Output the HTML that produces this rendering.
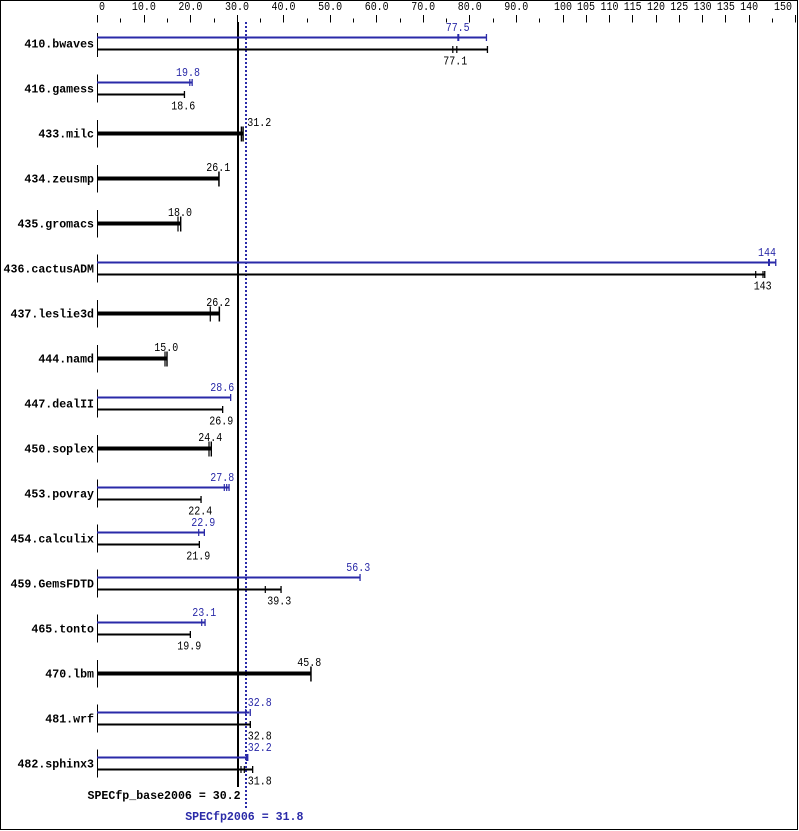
<!DOCTYPE html>
<html><head><meta charset="utf-8"><style>
html,body{margin:0;padding:0;background:#fff;}
svg{display:block;}
text{font-family:"Liberation Mono","DejaVu Sans Mono",monospace;}
.t{font-size:11.5px;fill:#000;text-anchor:middle;}
.tb{font-size:11.5px;fill:#2a2aa8;text-anchor:middle;}
.n{font-size:11.6px;font-weight:bold;fill:#000;text-anchor:end;}
</style></head><body>
<svg width="799" height="831" viewBox="0 0 799 831" xmlns="http://www.w3.org/2000/svg">
<rect x="0" y="0" width="799" height="831" fill="#fff"/>
<rect x="0.5" y="0.5" width="797" height="829" fill="none" stroke="#000" stroke-width="1"/>

<!-- top axis ticks -->
<g stroke="#000" stroke-width="1">
<line x1="97.5" y1="15" x2="97.5" y2="22.5"/>
<line x1="120.5" y1="18.5" x2="120.5" y2="22.5"/>
<line x1="144.5" y1="15" x2="144.5" y2="22.5"/>
<line x1="167.5" y1="18.5" x2="167.5" y2="22.5"/>
<line x1="190.5" y1="15" x2="190.5" y2="22.5"/>
<line x1="214.5" y1="18.5" x2="214.5" y2="22.5"/>
<line x1="237.5" y1="15" x2="237.5" y2="22.5"/>
<line x1="260.5" y1="18.5" x2="260.5" y2="22.5"/>
<line x1="283.5" y1="15" x2="283.5" y2="22.5"/>
<line x1="307.5" y1="18.5" x2="307.5" y2="22.5"/>
<line x1="330.5" y1="15" x2="330.5" y2="22.5"/>
<line x1="353.5" y1="18.5" x2="353.5" y2="22.5"/>
<line x1="376.5" y1="15" x2="376.5" y2="22.5"/>
<line x1="400.5" y1="18.5" x2="400.5" y2="22.5"/>
<line x1="423.5" y1="15" x2="423.5" y2="22.5"/>
<line x1="446.5" y1="18.5" x2="446.5" y2="22.5"/>
<line x1="469.5" y1="15" x2="469.5" y2="22.5"/>
<line x1="493.5" y1="18.5" x2="493.5" y2="22.5"/>
<line x1="516.5" y1="15" x2="516.5" y2="22.5"/>
<line x1="539.5" y1="18.5" x2="539.5" y2="22.5"/>
<line x1="563.5" y1="15" x2="563.5" y2="22.5"/>
<line x1="586.5" y1="15" x2="586.5" y2="22.5"/>
<line x1="609.5" y1="15" x2="609.5" y2="22.5"/>
<line x1="632.5" y1="15" x2="632.5" y2="22.5"/>
<line x1="656.5" y1="15" x2="656.5" y2="22.5"/>
<line x1="679.5" y1="15" x2="679.5" y2="22.5"/>
<line x1="702.5" y1="15" x2="702.5" y2="22.5"/>
<line x1="725.5" y1="15" x2="725.5" y2="22.5"/>
<line x1="749.5" y1="15" x2="749.5" y2="22.5"/>
<line x1="772.5" y1="18.5" x2="772.5" y2="22.5"/>
<line x1="795.5" y1="15" x2="795.5" y2="22.5"/>
</g>
<text x="102" y="10" class="t" textLength="6" lengthAdjust="spacingAndGlyphs">0</text>
<text x="143.9" y="10" class="t" textLength="24" lengthAdjust="spacingAndGlyphs">10.0</text>
<text x="190.4" y="10" class="t" textLength="24" lengthAdjust="spacingAndGlyphs">20.0</text>
<text x="237" y="10" class="t" textLength="24" lengthAdjust="spacingAndGlyphs">30.0</text>
<text x="283.5" y="10" class="t" textLength="24" lengthAdjust="spacingAndGlyphs">40.0</text>
<text x="330.1" y="10" class="t" textLength="24" lengthAdjust="spacingAndGlyphs">50.0</text>
<text x="376.7" y="10" class="t" textLength="24" lengthAdjust="spacingAndGlyphs">60.0</text>
<text x="423.2" y="10" class="t" textLength="24" lengthAdjust="spacingAndGlyphs">70.0</text>
<text x="469.8" y="10" class="t" textLength="24" lengthAdjust="spacingAndGlyphs">80.0</text>
<text x="516.3" y="10" class="t" textLength="24" lengthAdjust="spacingAndGlyphs">90.0</text>
<text x="563" y="10" class="t" textLength="18" lengthAdjust="spacingAndGlyphs">100</text>
<text x="586" y="10" class="t" textLength="18" lengthAdjust="spacingAndGlyphs">105</text>
<text x="609.5" y="10" class="t" textLength="18" lengthAdjust="spacingAndGlyphs">110</text>
<text x="632.7" y="10" class="t" textLength="18" lengthAdjust="spacingAndGlyphs">115</text>
<text x="656" y="10" class="t" textLength="18" lengthAdjust="spacingAndGlyphs">120</text>
<text x="679.3" y="10" class="t" textLength="18" lengthAdjust="spacingAndGlyphs">125</text>
<text x="702.6" y="10" class="t" textLength="18" lengthAdjust="spacingAndGlyphs">130</text>
<text x="725.9" y="10" class="t" textLength="18" lengthAdjust="spacingAndGlyphs">135</text>
<text x="749.1" y="10" class="t" textLength="18" lengthAdjust="spacingAndGlyphs">140</text>
<text x="783" y="10" class="t" textLength="18" lengthAdjust="spacingAndGlyphs">150</text>

<!-- reference lines -->
<rect x="237" y="22" width="2" height="765" fill="#000"/>
<line x1="246" y1="22" x2="246" y2="809" stroke="#2a2aa8" stroke-width="2" stroke-dasharray="2 2"/>

<!-- axis segments -->
<g stroke="#000" stroke-width="1">
<line x1="97.5" y1="33" x2="97.5" y2="57"/>
<line x1="97.5" y1="74.5" x2="97.5" y2="102.5"/>
<line x1="97.5" y1="120" x2="97.5" y2="147.5"/>
<line x1="97.5" y1="165" x2="97.5" y2="192.5"/>
<line x1="97.5" y1="210" x2="97.5" y2="237.5"/>
<line x1="97.5" y1="254.5" x2="97.5" y2="282.5"/>
<line x1="97.5" y1="300" x2="97.5" y2="327.5"/>
<line x1="97.5" y1="345" x2="97.5" y2="372.5"/>
<line x1="97.5" y1="389.5" x2="97.5" y2="417.5"/>
<line x1="97.5" y1="435" x2="97.5" y2="462.5"/>
<line x1="97.5" y1="479.5" x2="97.5" y2="507.5"/>
<line x1="97.5" y1="524.5" x2="97.5" y2="552.5"/>
<line x1="97.5" y1="569.5" x2="97.5" y2="597.5"/>
<line x1="97.5" y1="614.5" x2="97.5" y2="642.5"/>
<line x1="97.5" y1="660" x2="97.5" y2="687.5"/>
<line x1="97.5" y1="704.5" x2="97.5" y2="732.5"/>
<line x1="97.5" y1="749.5" x2="97.5" y2="777.5"/>
</g>

<!-- names -->
<text x="94" y="47.5" class="n">410.bwaves</text>
<text x="94" y="92.5" class="n">416.gamess</text>
<text x="94" y="137.5" class="n">433.milc</text>
<text x="94" y="182.5" class="n">434.zeusmp</text>
<text x="94" y="227.5" class="n">435.gromacs</text>
<text x="94" y="272.5" class="n">436.cactusADM</text>
<text x="94" y="317.5" class="n">437.leslie3d</text>
<text x="94" y="362.5" class="n">444.namd</text>
<text x="94" y="407.5" class="n">447.dealII</text>
<text x="94" y="452.5" class="n">450.soplex</text>
<text x="94" y="497.5" class="n">453.povray</text>
<text x="94" y="542.5" class="n">454.calculix</text>
<text x="94" y="587.5" class="n">459.GemsFDTD</text>
<text x="94" y="632.5" class="n">465.tonto</text>
<text x="94" y="677.5" class="n">470.lbm</text>
<text x="94" y="722.5" class="n">481.wrf</text>
<text x="94" y="767.5" class="n">482.sphinx3</text>

<!-- 410.bwaves c=43.5 -->
<rect x="97" y="36.5" width="389.3" height="2" fill="#2a2aa8"/>
<rect x="457.3" y="34" width="2" height="7" fill="#2a2aa8"/>
<rect x="485.8" y="34" width="1.3" height="7" fill="#2a2aa8"/>
<rect x="97" y="48.5" width="390.3" height="2" fill="#000"/>
<rect x="452.2" y="46" width="1.2" height="7" fill="#000"/>
<rect x="456.2" y="46" width="1.2" height="7" fill="#000"/>
<rect x="486.8" y="46" width="1.3" height="7" fill="#000"/>
<text x="457.7" y="31" class="tb" textLength="24" lengthAdjust="spacingAndGlyphs">77.5</text>
<text x="455.3" y="64.5" class="t" textLength="24" lengthAdjust="spacingAndGlyphs">77.1</text>

<!-- 416.gamess c=88.5 -->
<rect x="97" y="81.5" width="95" height="2" fill="#2a2aa8"/>
<rect x="189.2" y="79" width="1.2" height="7" fill="#2a2aa8"/>
<rect x="191.5" y="79" width="1.3" height="7" fill="#2a2aa8"/>
<rect x="97" y="93.5" width="87.3" height="2" fill="#000"/>
<rect x="183.8" y="91" width="1.3" height="7" fill="#000"/>
<text x="188" y="76" class="tb" textLength="24" lengthAdjust="spacingAndGlyphs">19.8</text>
<text x="183.3" y="109.5" class="t" textLength="24" lengthAdjust="spacingAndGlyphs">18.6</text>

<!-- 433.milc c=133.5 -->
<rect x="97" y="131.5" width="146" height="4" fill="#000"/>
<rect x="240.7" y="126.5" width="1.3" height="15" fill="#000"/>
<rect x="242.3" y="126.5" width="1.5" height="15" fill="#000"/>
<text x="259.3" y="126" class="t" textLength="24" lengthAdjust="spacingAndGlyphs">31.2</text>

<!-- 434.zeusmp c=178.5 -->
<rect x="97" y="176.5" width="122" height="4" fill="#000"/>
<rect x="218.2" y="171.5" width="1.5" height="15" fill="#000"/>
<text x="218.3" y="171" class="t" textLength="24" lengthAdjust="spacingAndGlyphs">26.1</text>

<!-- 435.gromacs c=223.5 -->
<rect x="97" y="221.5" width="83.7" height="4" fill="#000"/>
<rect x="177.4" y="216.5" width="1.2" height="15" fill="#000"/>
<rect x="180" y="216.5" width="1.4" height="15" fill="#000"/>
<text x="180" y="216" class="t" textLength="24" lengthAdjust="spacingAndGlyphs">18.0</text>

<!-- 436.cactusADM c=268.5 -->
<rect x="97" y="261.5" width="678.7" height="2" fill="#2a2aa8"/>
<rect x="768" y="259" width="2" height="7" fill="#2a2aa8"/>
<rect x="775.1" y="259" width="1.3" height="7" fill="#2a2aa8"/>
<rect x="97" y="273.5" width="667.7" height="2" fill="#000"/>
<rect x="755.1" y="271" width="1.2" height="7" fill="#000"/>
<rect x="762.4" y="271" width="1.2" height="7" fill="#000"/>
<rect x="764.1" y="271" width="1.3" height="7" fill="#000"/>
<text x="767" y="256" class="tb" textLength="18" lengthAdjust="spacingAndGlyphs">144</text>
<text x="762.7" y="289.5" class="t" textLength="18" lengthAdjust="spacingAndGlyphs">143</text>

<!-- 437.leslie3d c=313.5 -->
<rect x="97" y="311.5" width="122.3" height="4" fill="#000"/>
<rect x="209.7" y="306.5" width="1.2" height="15" fill="#000"/>
<rect x="218.6" y="306.5" width="1.5" height="15" fill="#000"/>
<text x="218.3" y="306" class="t" textLength="24" lengthAdjust="spacingAndGlyphs">26.2</text>

<!-- 444.namd c=358.5 -->
<rect x="97" y="356.5" width="70" height="4" fill="#000"/>
<rect x="164.4" y="351.5" width="1.2" height="15" fill="#000"/>
<rect x="166.3" y="351.5" width="1.4" height="15" fill="#000"/>
<text x="166.3" y="351" class="t" textLength="24" lengthAdjust="spacingAndGlyphs">15.0</text>

<!-- 447.dealII c=403.5 -->
<rect x="97" y="396.5" width="133.7" height="2" fill="#2a2aa8"/>
<rect x="230" y="394" width="1.3" height="7" fill="#2a2aa8"/>
<rect x="97" y="408.5" width="125.7" height="2" fill="#000"/>
<rect x="222" y="406" width="1.3" height="7" fill="#000"/>
<text x="222.3" y="391" class="tb" textLength="24" lengthAdjust="spacingAndGlyphs">28.6</text>
<text x="221.3" y="424.5" class="t" textLength="24" lengthAdjust="spacingAndGlyphs">26.9</text>

<!-- 450.soplex c=448.5 -->
<rect x="97" y="446.5" width="114.3" height="4" fill="#000"/>
<rect x="208.4" y="441.5" width="1.2" height="15" fill="#000"/>
<rect x="210.6" y="441.5" width="1.4" height="15" fill="#000"/>
<text x="210.3" y="441" class="t" textLength="24" lengthAdjust="spacingAndGlyphs">24.4</text>

<!-- 453.povray c=493.5 -->
<rect x="97" y="486.5" width="132" height="2" fill="#2a2aa8"/>
<rect x="223.7" y="484" width="1.2" height="7" fill="#2a2aa8"/>
<rect x="226.1" y="484" width="1.2" height="7" fill="#2a2aa8"/>
<rect x="228.4" y="484" width="1.3" height="7" fill="#2a2aa8"/>
<rect x="97" y="498.5" width="104" height="2" fill="#000"/>
<rect x="200.4" y="496" width="1.3" height="7" fill="#000"/>
<text x="222.3" y="481" class="tb" textLength="24" lengthAdjust="spacingAndGlyphs">27.8</text>
<text x="200.3" y="514.5" class="t" textLength="24" lengthAdjust="spacingAndGlyphs">22.4</text>

<!-- 454.calculix c=538.5 -->
<rect x="97" y="531.5" width="107.3" height="2" fill="#2a2aa8"/>
<rect x="198.1" y="529" width="1.2" height="7" fill="#2a2aa8"/>
<rect x="203.7" y="529" width="1.3" height="7" fill="#2a2aa8"/>
<rect x="97" y="543.5" width="102.3" height="2" fill="#000"/>
<rect x="198.7" y="541" width="1.3" height="7" fill="#000"/>
<text x="203.3" y="526" class="tb" textLength="24" lengthAdjust="spacingAndGlyphs">22.9</text>
<text x="198.3" y="559.5" class="t" textLength="24" lengthAdjust="spacingAndGlyphs">21.9</text>

<!-- 459.GemsFDTD c=583.5 -->
<rect x="97" y="576.5" width="263" height="2" fill="#2a2aa8"/>
<rect x="359.4" y="574" width="1.3" height="7" fill="#2a2aa8"/>
<rect x="97" y="588.5" width="184" height="2" fill="#000"/>
<rect x="264.7" y="586" width="1.2" height="7" fill="#000"/>
<rect x="280.4" y="586" width="1.3" height="7" fill="#000"/>
<text x="358.3" y="571" class="tb" textLength="24" lengthAdjust="spacingAndGlyphs">56.3</text>
<text x="279.3" y="604.5" class="t" textLength="24" lengthAdjust="spacingAndGlyphs">39.3</text>

<!-- 465.tonto c=628.5 -->
<rect x="97" y="621.5" width="108" height="2" fill="#2a2aa8"/>
<rect x="201.1" y="619" width="1.2" height="7" fill="#2a2aa8"/>
<rect x="204.4" y="619" width="1.3" height="7" fill="#2a2aa8"/>
<rect x="97" y="633.5" width="93.3" height="2" fill="#000"/>
<rect x="189.7" y="631" width="1.3" height="7" fill="#000"/>
<text x="204.3" y="616" class="tb" textLength="24" lengthAdjust="spacingAndGlyphs">23.1</text>
<text x="189.3" y="649.5" class="t" textLength="24" lengthAdjust="spacingAndGlyphs">19.9</text>

<!-- 470.lbm c=673.5 -->
<rect x="97" y="671.5" width="214" height="4" fill="#000"/>
<rect x="310.2" y="666.5" width="1.5" height="15" fill="#000"/>
<text x="309.3" y="666" class="t" textLength="24" lengthAdjust="spacingAndGlyphs">45.8</text>

<!-- 481.wrf c=718.5 -->
<rect x="97" y="711.5" width="152.3" height="2" fill="#2a2aa8"/>
<rect x="245.1" y="709" width="1.2" height="7" fill="#2a2aa8"/>
<rect x="249.6" y="709" width="1.3" height="7" fill="#2a2aa8"/>
<rect x="97" y="723.5" width="153.3" height="2" fill="#000"/>
<rect x="249.6" y="721" width="1.4" height="7" fill="#000"/>
<text x="259.8" y="706" class="tb" textLength="24" lengthAdjust="spacingAndGlyphs">32.8</text>
<text x="259.8" y="739.5" class="t" textLength="24" lengthAdjust="spacingAndGlyphs">32.8</text>

<!-- 482.sphinx3 c=763.5 -->
<rect x="97" y="756.5" width="151" height="2" fill="#2a2aa8"/>
<rect x="245.8" y="754" width="2.6" height="7" fill="#2a2aa8"/>
<rect x="97" y="768.5" width="155.7" height="2" fill="#000"/>
<rect x="240.4" y="766" width="1.2" height="7" fill="#000"/>
<rect x="243.7" y="766" width="1.2" height="7" fill="#000"/>
<rect x="252" y="766" width="1.3" height="7" fill="#000"/>
<text x="259.8" y="751" class="tb" textLength="24" lengthAdjust="spacingAndGlyphs">32.2</text>
<text x="259.8" y="784.5" class="t" textLength="24" lengthAdjust="spacingAndGlyphs">31.8</text>

<!-- summary -->
<text x="87.5" y="799" style="font-size:11.6px;font-weight:bold;fill:#000;">SPECfp_base2006 = 30.2</text>
<text x="185.2" y="820" style="font-size:11.6px;font-weight:bold;fill:#2a2aa8;">SPECfp2006 = 31.8</text>
</svg>
</body></html>
